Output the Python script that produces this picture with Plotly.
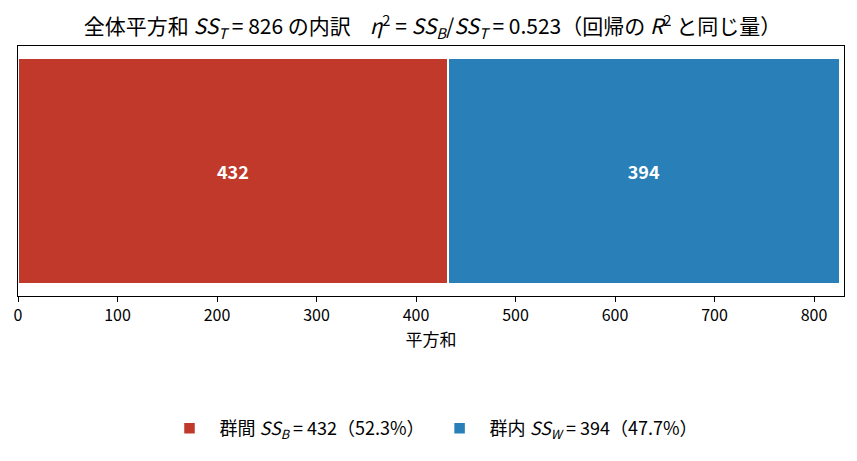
import plotly.graph_objects as go

# 平方和の分解
labels = ["群間 <i>SS</i><sub><i>B</i></sub> = 432（52.3%）", "群内 <i>SS</i><sub><i>W</i></sub> = 394（47.7%）"]
values = [432, 394]
colors = ["#c0392b", "#2980b9"]
ss_total = 826
eta_sq = 0.523

FONT = "Noto Sans CJK JP"

fig = go.Figure()
for lab, val, col in zip(labels, values, colors):
    fig.add_trace(go.Bar(
        x=[val], y=[0], orientation="h", name=lab,
        marker=dict(color=col, line=dict(color="white", width=1.5)),
        width=0.9,
        text=[f"<b>{val}</b>"], textposition="inside", insidetextanchor="middle",
        textfont=dict(color="white", size=18, family=FONT),
        hoverinfo="skip",
    ))

title = (f"全体平方和 <i>SS</i><sub><i>T</i></sub> = {ss_total} の内訳&nbsp;&nbsp;&nbsp;&nbsp;"
         f"<i>η</i><sup>2</sup> = <i>SS</i><sub><i>B</i></sub>/<i>SS</i><sub><i>T</i></sub> = {eta_sq}"
         "（回帰の <i>R</i><sup>2</sup> と同じ量）")

# the page body has an 8px margin, so the figure is a little smaller
fig.update_layout(
    width=849, height=453,
    barmode="stack",
    paper_bgcolor="white", plot_bgcolor="white",
    font=dict(family=FONT, size=16, color="black"),
    margin=dict(l=10, r=13, t=38, b=165, autoexpand=False),
    title=dict(text=title, x=0.5, xanchor="center", y=1 - 19 / 453, yanchor="middle",
               font=dict(size=21, family=FONT)),
    showlegend=True,
    legend=dict(orientation="h", x=0.5, xanchor="center", y=-0.53, yanchor="middle",
                font=dict(size=18, family=FONT), traceorder="normal",
                itemwidth=50),
)
fig.update_xaxes(range=[0, ss_total * 1.005], tickvals=list(range(0, 801, 100)),
                 ticks="outside", ticklen=5, tickcolor="black", showline=True,
                 linecolor="black", linewidth=1, mirror=True, showgrid=False,
                 zeroline=False, tickfont=dict(size=16), automargin=False,
                 title=dict(text="平方和", font=dict(size=17), standoff=6))
fig.update_yaxes(range=[-0.5, 0.5], showticklabels=False, ticks="", showline=True,
                 linecolor="black", linewidth=1, mirror=True, showgrid=False,
                 zeroline=False, automargin=False)

fig.write_html("out.html")
